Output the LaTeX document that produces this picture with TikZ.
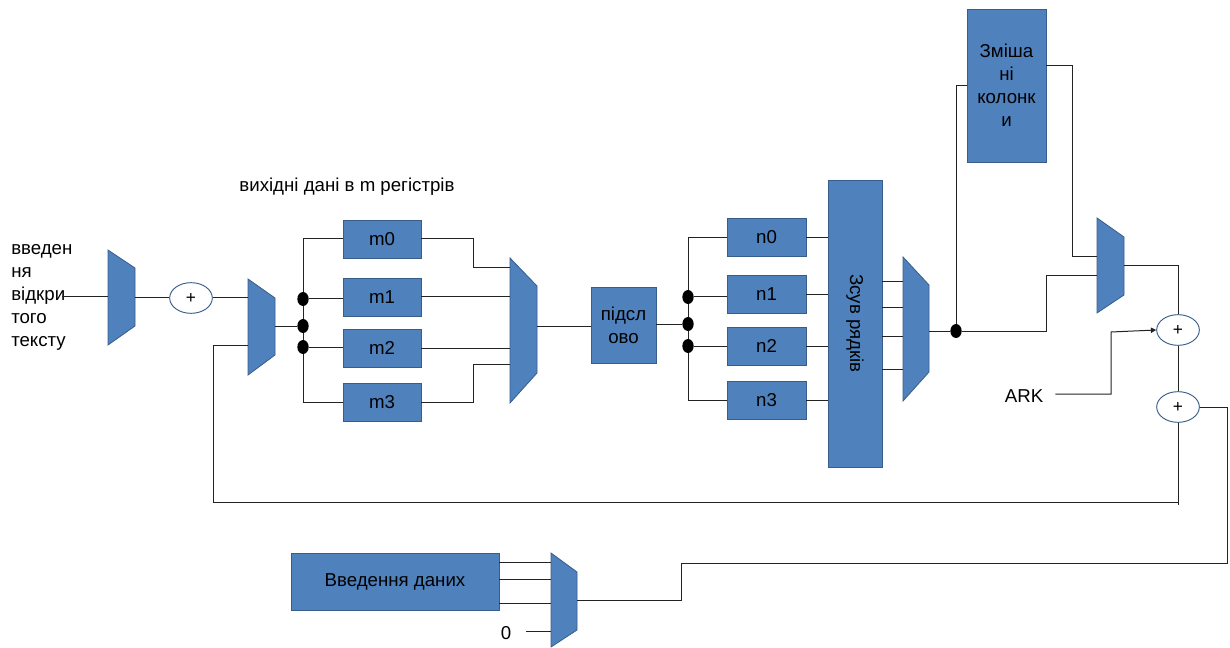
\documentclass[tikz,border=0pt]{standalone}
\usepackage{fontspec}
\setmainfont{Liberation Sans}
\usetikzlibrary{fit,shapes.geometric,arrows.meta,calc}
\definecolor{blkfill}{RGB}{79,129,189}
\definecolor{blkedge}{RGB}{56,93,138}
\definecolor{wire}{RGB}{35,35,35}
\tikzset{
  blk/.style={rectangle,draw=blkedge,fill=blkfill,line width=0.6pt,inner sep=0pt,align=center,
    font=\fontsize{14}{17.25}\selectfont},
  sumnode/.style={ellipse,draw=blkedge,fill=white,line width=0.7pt,inner sep=0pt,
    minimum width=32pt,minimum height=23pt,font=\fontsize{13}{14}\selectfont},
  junct/.style={ellipse,fill=black,inner sep=0pt,minimum width=8.5pt,minimum height=10.5pt},
  lbl/.style={inner sep=0pt,font=\fontsize{14}{17.25}\selectfont},
  wireline/.style={draw=wire,line width=0.75pt},
  muxbox/.style={inner sep=0pt}
}
% multiplexer: name, x left, y top-left, y bottom-left, x right, y top-right, y bottom-right
\newcommand\muxunit[7]{%
  \path[fill=blkfill,draw=blkedge,line width=0.6pt] (#2,#3) -- (#5,#6) -- (#5,#7) -- (#2,#4) -- cycle;
  \node[muxbox,fit={(#2,#3)(#5,#4)}] (#1) {};}
\begin{document}
\begin{tikzpicture}[x=0.75pt,y=-0.75pt]
\useasboundingbox (0,0) rectangle (1230,648);

% ---- multiplexers
\muxunit{mx1}{108}{250}{345}{135}{268}{326}
\muxunit{mx2}{248}{279}{375}{275}{298}{355}
\muxunit{mx3}{510}{258}{403}{537}{286}{373}
\muxunit{mx4}{903}{257}{401}{929}{285}{372}
\muxunit{mx5}{1097}{218}{313}{1124}{237}{295}
\muxunit{mx6}{551}{553}{647}{577}{572}{630}

% ---- registers and blocks
\tikzset{mreg/.style={blk,minimum width=58.5pt,minimum height=28.5pt},
         nreg/.style={blk,minimum width=59.25pt,minimum height=28.5pt}}
\node[mreg] (m0) at (382,239) {m0};
\node[mreg] (m1) at (382,297) {m1};
\node[mreg] (m2) at (382,348) {m2};
\node[mreg] (m3) at (382,402) {m3};
\node[blk,minimum width=48.75pt,minimum height=57pt] (ps) at (623.5,325) {підсл\\ово};
\node[nreg] (n0) at (766.5,237.5) {n0};
\node[nreg] (n1) at (766.5,294.5) {n1};
\node[nreg] (n2) at (766.5,346) {n2};
\node[nreg] (n3) at (766.5,400) {n3};
\node[blk,minimum width=40.5pt,minimum height=215.25pt] (sr) at (855,323.5) {};
\node[lbl,rotate=-90] (srt) at (sr.center) {Зсув рядків};
\node[blk,minimum width=59.25pt,minimum height=114.75pt] (mc) at (1006.5,85.5) {Зміша\\ні\\колонк\\и};
\node[blk,minimum width=156pt,minimum height=42.75pt] (dd) at (395,581.5) {Введення даних};

% ---- adders
\node[sumnode] (p1) at (191,298) {+};
\node[sumnode] (p2) at (1178,330) {+};
\node[sumnode] (p3) at (1178,407) {+};

% ---- junction dots
\node[junct] (d1) at (303,299) {};
\node[junct] (d2) at (303,326) {};
\node[junct] (d3) at (303,347) {};
\node[junct] (e1) at (688,297) {};
\node[junct] (e2) at (688,324) {};
\node[junct] (e3) at (688,346) {};
\node[junct] (f) at (956,331) {};

% ---- labels
\node[lbl,align=left,anchor=west] (intext) at (11,297) {введен\\ня\\відкри\\того\\тексту};
\node[lbl] (outlbl) at (347,187) {вихідні дані в m регістрів};
\node[lbl] (ark) at (1024,396) {ARK};
\node[lbl] (zero) at (506,633) {0};
\coordinate (in) at (62,297);
\coordinate (fb) at (1178,502);

% ---- wiring
\begin{scope}[wireline]
\draw (in) -- (in -| mx1.west);
\draw (mx1.east |- p1) -- (p1.west);
\draw (p1.east) -- (p1 -| mx2.west);
\draw (d2 -| mx2.east) -- (d2);
% register bank m
\draw (m0.west) -| (d1) -- (d2) -- (d3) |- (m3.west);
\draw (d1) -- (d1 -| m1.west);
\draw (d3) -- (d3 -| m2.west);
\draw (m0.east) -| (473,268) -- (mx3.west |- 0,268);
\draw (m1.east) -- (m1.east -| mx3.west);
\draw (m2.east) -- (m2.east -| mx3.west);
\draw (m3.east) -| (473,364) -- (mx3.west |- 0,364);
\draw (mx3.east |- 0,326) -- (ps.west |- 0,326);
% register bank n
\draw (ps.east |- e2) -- (e2);
\draw (n0.west) -| (e1) -- (e2) -- (e3) |- (n3.west);
\draw (e1) -- (e1 -| n1.west);
\draw (e3) -- (e3 -| n2.west);
\draw (n0.east) -- (n0.east -| sr.west);
\draw (n1.east) -- (n1.east -| sr.west);
\draw (n2.east) -- (n2.east -| sr.west);
\draw (n3.east) -- (n3.east -| sr.west);
\draw (sr.east |- 0,282) -- (mx4.west |- 0,282);
\draw (sr.east |- 0,308) -- (mx4.west |- 0,308);
\draw (sr.east |- 0,336) -- (mx4.west |- 0,336);
\draw (sr.east |- 0,369) -- (mx4.west |- 0,369);
\draw (mx4.east |- f) -- (f);
% mix columns and bypass
\draw (f) -- (f |- 0,86) -- (mc.west |- 0,86);
\draw (mc.east |- 0,66) -| (1072,257) -- (mx5.west |- 0,257);
\draw (f) -| (1046,276) -- (mx5.west |- 0,276);
\draw (mx5.east |- 0,266) -| (p2.north);
\draw[-{Triangle[length=4pt,width=4pt]}] (ark.east |- 0,394) ++(12,0) -| (1111,332) -- (p2.west);
\draw (p2.south) -- (p3.north);
% feedback into the round input
\draw (p3.south) -- (fb) -- ++(0,3);
\draw (fb) -| (213,345) -- (mx2.west |- 0,345);
% data input path
\draw (p3.east) -| (1227,563) -| (681,600) -- (mx6.east |- 0,600);
\draw (dd.east |- 0,562) -- (mx6.west |- 0,562);
\draw (dd.east |- 0,579) -- (mx6.west |- 0,579);
\draw (dd.east |- 0,603) -- (mx6.west |- 0,603);
\draw (zero.east |- 0,631) ++(15,0) -- (mx6.west |- 0,631);
\end{scope}
\end{tikzpicture}
\end{document}
